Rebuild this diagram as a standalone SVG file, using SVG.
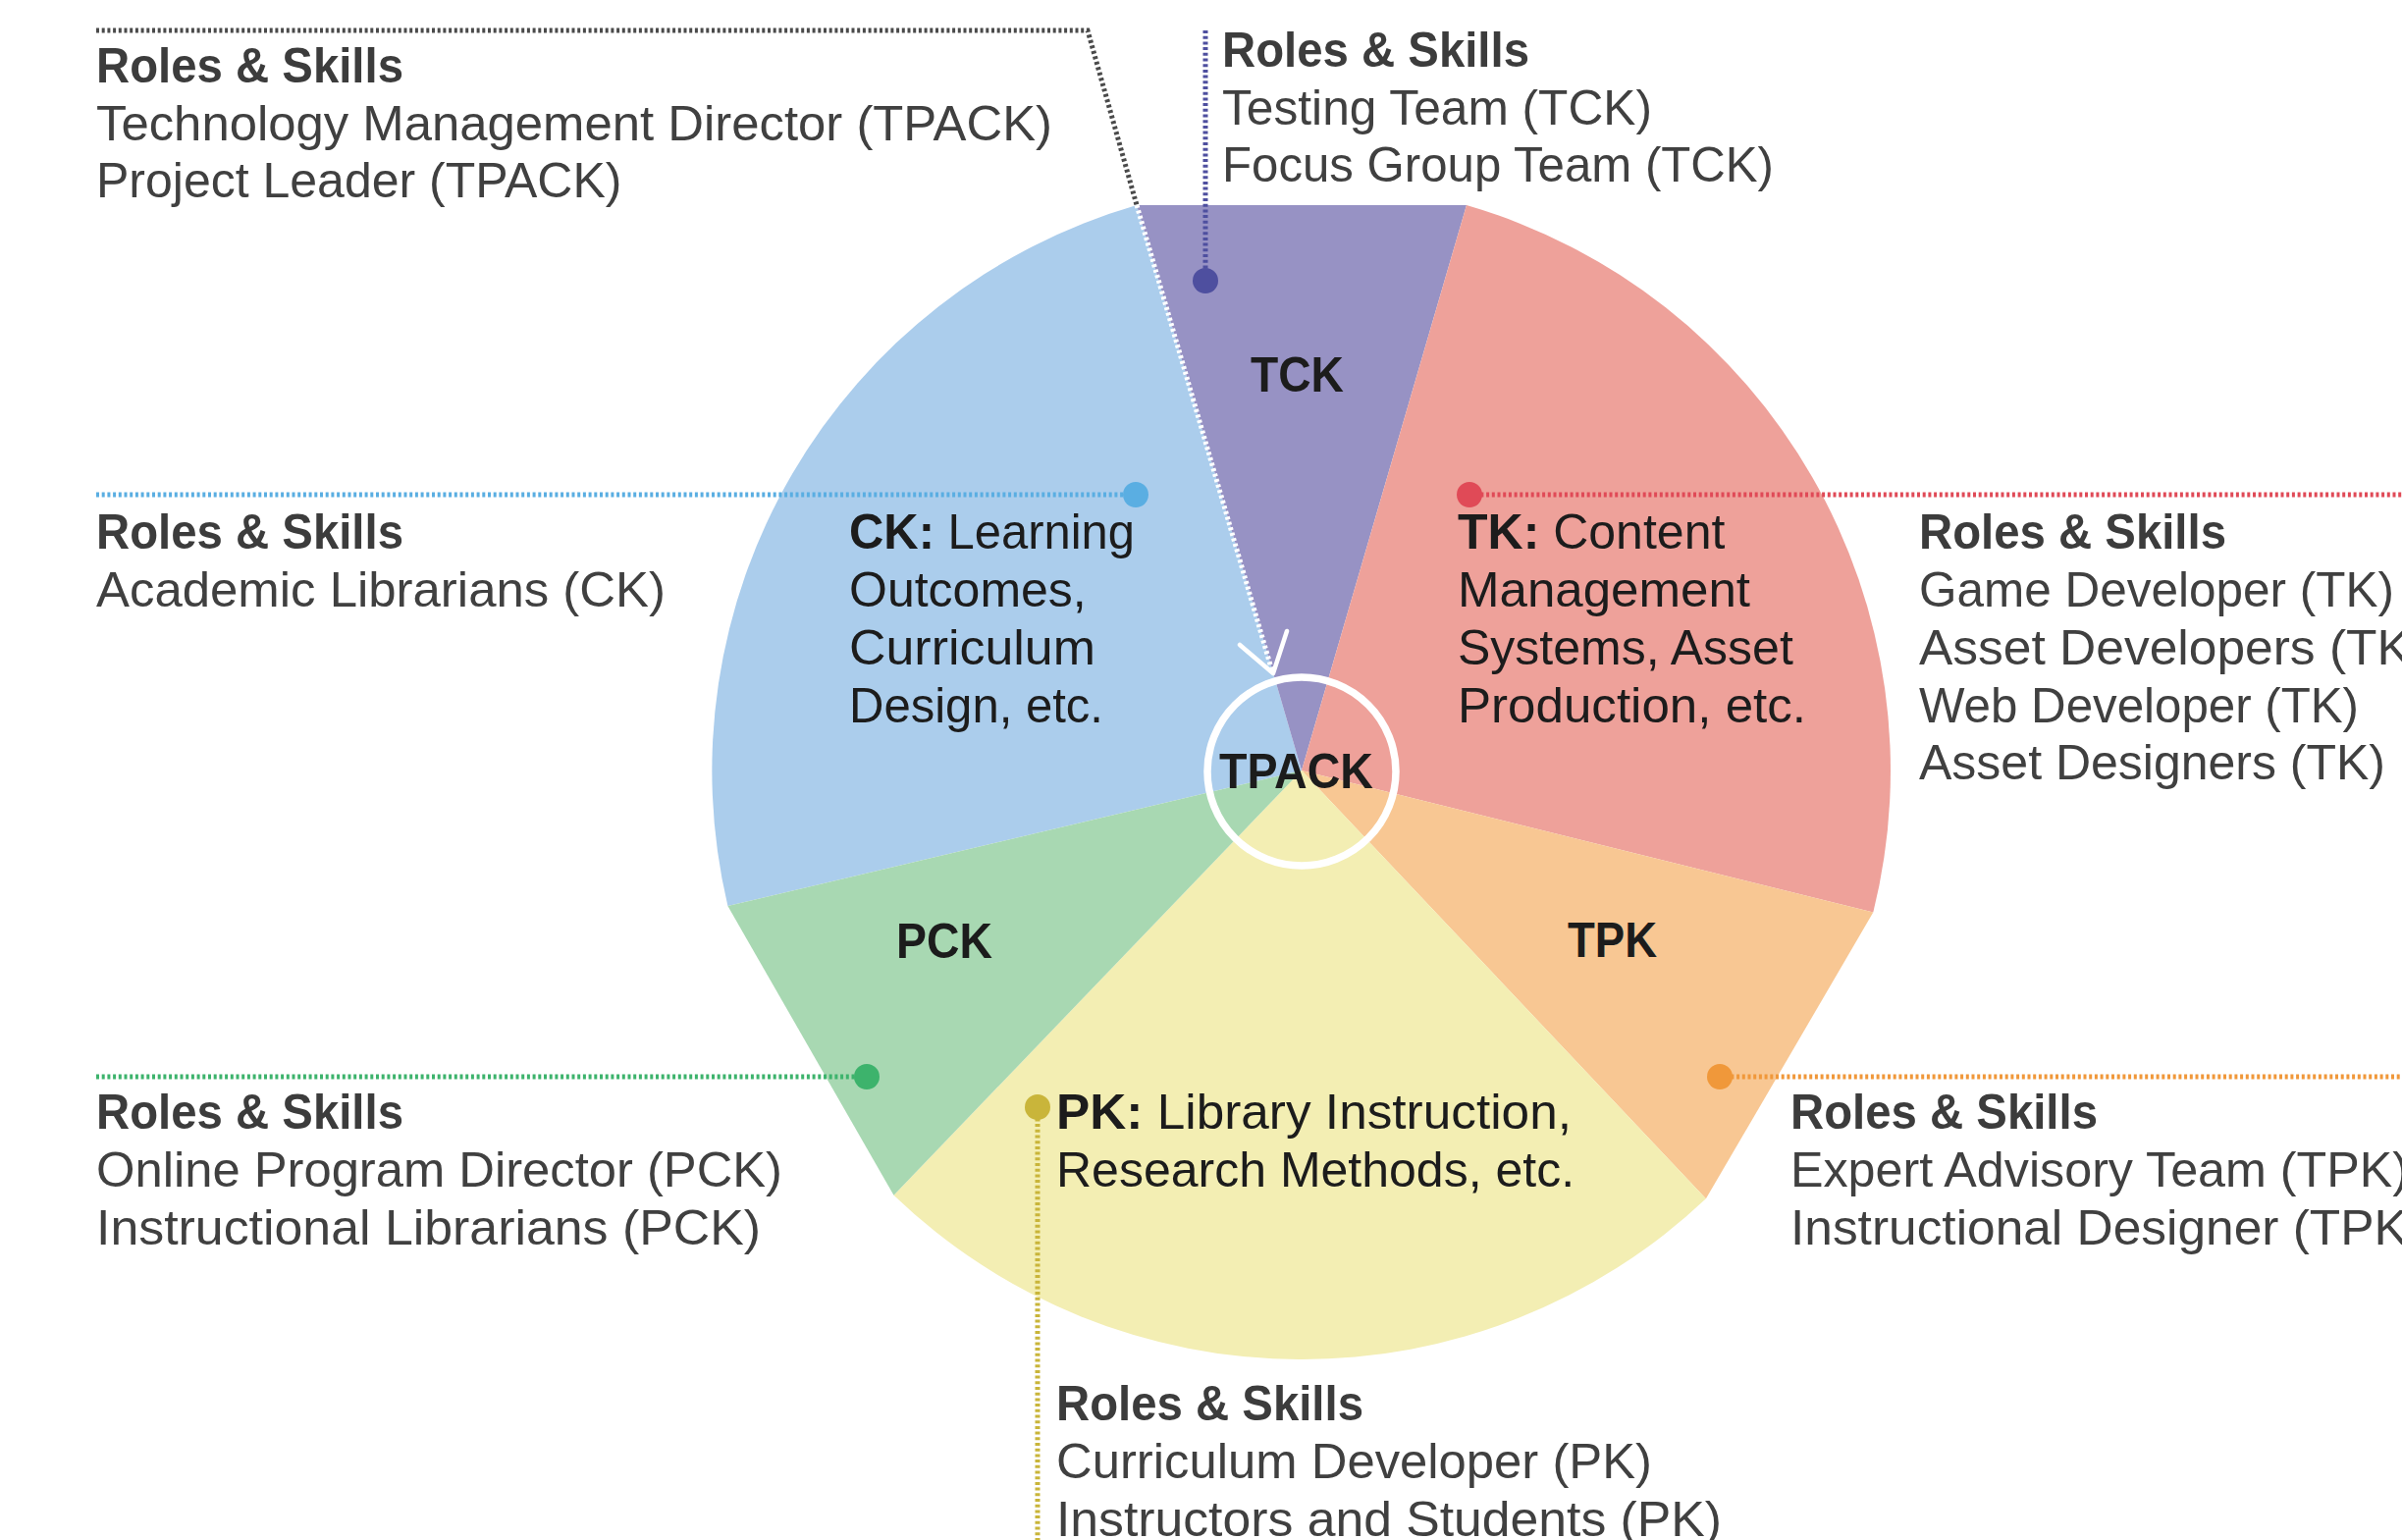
<svg xmlns="http://www.w3.org/2000/svg" width="2447" height="1569" viewBox="0 0 2447 1569">
<style>
text{font-family:"Liberation Sans",Arial,sans-serif;font-size:50px}
.h{font-weight:bold;fill:#3c3c3c}
.t{fill:#404040}
.in{fill:#1c1c1c}
.lb{font-weight:bold;fill:#1c1c1c}
.b{font-weight:bold}
.dot{stroke-width:5;fill:none;stroke-dasharray:3 2.7}
</style>
<rect width="2447" height="1569" fill="#ffffff"/>

<g id="ck">
<path d="M1326,785 L741.4,923 A600,600 0 0 1 1158,209 Z" fill="#abcdec"/>
<text x="865" y="559" class="in" textLength="291" lengthAdjust="spacingAndGlyphs"><tspan class="b">CK:</tspan> Learning</text>
<text x="865" y="618" class="in">Outcomes,</text>
<text x="865" y="677" class="in" textLength="251" lengthAdjust="spacingAndGlyphs">Curriculum</text>
<text x="865" y="736" class="in" textLength="259" lengthAdjust="spacingAndGlyphs">Design, etc.</text>
</g>
<g id="tck">
<path d="M1326,785 L1158,209 L1494,209 Z" fill="#9792c4"/>
<text x="1274" y="399" class="lb" textLength="95" lengthAdjust="spacingAndGlyphs">TCK</text>
</g>
<g id="tk">
<path d="M1326,785 L1494,209 A600,600 0 0 1 1908.3,929.6 Z" fill="#eea19a"/>
<text x="1485" y="559" class="in"><tspan class="b">TK:</tspan> Content</text>
<text x="1485" y="618" class="in" textLength="298" lengthAdjust="spacingAndGlyphs">Management</text>
<text x="1485" y="677" class="in">Systems, Asset</text>
<text x="1485" y="736" class="in" textLength="355" lengthAdjust="spacingAndGlyphs">Production, etc.</text>
</g>
<g id="tpk">
<path d="M1326,785 L1908.3,929.6 L1737.9,1221.3 Z" fill="#f8c793"/>
<text x="1597" y="975" class="lb" textLength="91" lengthAdjust="spacingAndGlyphs">TPK</text>
</g>
<g id="pk">
<path d="M1326,785 L1737.9,1221.3 A600,600 0 0 1 910.5,1217.8 Z" fill="#f3eeb3"/>
<text x="1076" y="1150" class="in" textLength="525" lengthAdjust="spacingAndGlyphs"><tspan class="b">PK:</tspan> Library Instruction,</text>
<text x="1076" y="1209" class="in">Research Methods, etc.</text>
</g>
<g id="pck">
<path d="M1326,785 L910.5,1217.8 L741.4,923 Z" fill="#a8d8b2"/>
<text x="913" y="976" class="lb" textLength="98" lengthAdjust="spacingAndGlyphs">PCK</text>
</g>
<g id="tpack">
<circle cx="1326" cy="786" r="96" fill="none" stroke="#ffffff" stroke-width="7.5"/>
<text x="1242" y="803" class="lb" textLength="157" lengthAdjust="spacingAndGlyphs">TPACK</text>
</g>

<g id="connectors">
<polyline points="98,31 1108,31 1158,209" class="dot" stroke="#4a4a4a"/>
<line x1="1158" y1="209" x2="1296" y2="684" class="dot" stroke="#ffffff"/>
<polyline points="1263,657 1297,686 1311,643" fill="none" stroke="#ffffff" stroke-width="4.5" stroke-linecap="round" stroke-linejoin="round"/>
<line x1="1228" y1="31" x2="1228" y2="286" class="dot" stroke="#4e4f9f"/>
<circle cx="1228" cy="286" r="13" fill="#4e4f9f"/>
<line x1="98" y1="504" x2="1157" y2="504" class="dot" stroke="#5aaee2"/>
<circle cx="1157" cy="504" r="13" fill="#5aaee2"/>
<line x1="1497" y1="504" x2="2447" y2="504" class="dot" stroke="#e04a57"/>
<circle cx="1497" cy="504" r="13" fill="#e04a57"/>
<line x1="98" y1="1097" x2="883" y2="1097" class="dot" stroke="#3db36c"/>
<circle cx="883" cy="1097" r="13" fill="#3db36c"/>
<line x1="1752" y1="1097" x2="2447" y2="1097" class="dot" stroke="#f0983a"/>
<circle cx="1752" cy="1097" r="13" fill="#f0983a"/>
<line x1="1057" y1="1128" x2="1057" y2="1569" class="dot" stroke="#c9b53a"/>
<circle cx="1057" cy="1128" r="13" fill="#c9b53a"/>
</g>

<g id="roles-tpack">
<text x="98" y="84" class="h" textLength="313" lengthAdjust="spacingAndGlyphs">Roles &amp; Skills</text>
<text x="98" y="143" class="t" textLength="974" lengthAdjust="spacingAndGlyphs">Technology Management Director (TPACK)</text>
<text x="98" y="201" class="t">Project Leader (TPACK)</text>
</g>
<g id="roles-tck">
<text x="1245" y="68" class="h" textLength="313" lengthAdjust="spacingAndGlyphs">Roles &amp; Skills</text>
<text x="1245" y="127" class="t" textLength="438" lengthAdjust="spacingAndGlyphs">Testing Team (TCK)</text>
<text x="1245" y="185" class="t" textLength="562" lengthAdjust="spacingAndGlyphs">Focus Group Team (TCK)</text>
</g>
<g id="roles-ck">
<text x="98" y="559" class="h" textLength="313" lengthAdjust="spacingAndGlyphs">Roles &amp; Skills</text>
<text x="98" y="618" class="t" textLength="580" lengthAdjust="spacingAndGlyphs">Academic Librarians (CK)</text>
</g>
<g id="roles-tk">
<text x="1955" y="559" class="h" textLength="313" lengthAdjust="spacingAndGlyphs">Roles &amp; Skills</text>
<text x="1955" y="618" class="t" textLength="484" lengthAdjust="spacingAndGlyphs">Game Developer (TK)</text>
<text x="1955" y="677" class="t" textLength="518" lengthAdjust="spacingAndGlyphs">Asset Developers (TK)</text>
<text x="1955" y="736" class="t" textLength="448" lengthAdjust="spacingAndGlyphs">Web Developer (TK)</text>
<text x="1955" y="794" class="t" textLength="475" lengthAdjust="spacingAndGlyphs">Asset Designers (TK)</text>
</g>
<g id="roles-pck">
<text x="98" y="1150" class="h" textLength="313" lengthAdjust="spacingAndGlyphs">Roles &amp; Skills</text>
<text x="98" y="1209" class="t" textLength="699" lengthAdjust="spacingAndGlyphs">Online Program Director (PCK)</text>
<text x="98" y="1268" class="t" textLength="677" lengthAdjust="spacingAndGlyphs">Instructional Librarians (PCK)</text>
</g>
<g id="roles-tpk">
<text x="1824" y="1150" class="h" textLength="313" lengthAdjust="spacingAndGlyphs">Roles &amp; Skills</text>
<text x="1824" y="1209" class="t" textLength="630" lengthAdjust="spacingAndGlyphs">Expert Advisory Team (TPK)</text>
<text x="1824" y="1268" class="t" textLength="646" lengthAdjust="spacingAndGlyphs">Instructional Designer (TPK)</text>
</g>
<g id="roles-pk">
<text x="1076" y="1447" class="h" textLength="313" lengthAdjust="spacingAndGlyphs">Roles &amp; Skills</text>
<text x="1076" y="1506" class="t" textLength="607" lengthAdjust="spacingAndGlyphs">Curriculum Developer (PK)</text>
<text x="1076" y="1565" class="t" textLength="678" lengthAdjust="spacingAndGlyphs">Instructors and Students (PK)</text>
</g>
</svg>
